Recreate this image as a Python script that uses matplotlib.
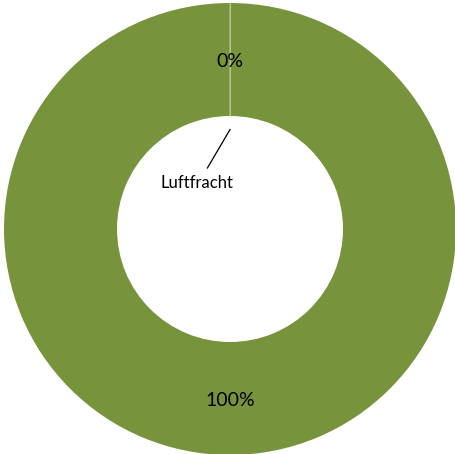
import numpy as np
import matplotlib.pyplot as plt

categories = ['Luftfracht', 'Sonstige']
values = [0.001, 99.999]
pct_labels = ['0%', '100%']

green = '#77933C'

fig = plt.figure(figsize=(4.56, 4.54), dpi=100)
ax = fig.add_axes([0, 0, 1, 1])

wedges, _ = ax.pie(values, colors=[green, green], startangle=90, counterclock=False,
                   radius=1.0, wedgeprops=dict(width=0.5, edgecolor='none', linewidth=0))

# thin separator at the slice border
for w in wedges:
    a = np.deg2rad(w.theta1)
    ax.plot([0.5 * np.cos(a), np.cos(a)], [0.5 * np.sin(a), np.sin(a)],
            color='#b5c493', lw=0.8, solid_capstyle='butt')

# percent labels in the ring
for w, lab in zip(wedges, pct_labels):
    ang = np.deg2rad((w.theta1 + w.theta2) / 2)
    ax.text(0.75 * np.cos(ang), 0.75 * np.sin(ang) - 0.01, lab, ha='center', va='center',
            fontsize=14, family='Lato', color='black')

# category label with leader line
ax.plot([0.0, -0.10], [0.44, 0.27], color='black', lw=0.9)
ax.text(-0.145, 0.205, categories[0], ha='center', va='center', fontsize=12, family='Lato')

ax.set_xlim(-230 / 226, 226 / 226)
ax.set_ylim(-225 / 226, 229 / 226)
ax.set_aspect('equal')
ax.axis('off')

fig.savefig('out.png', dpi=100)
